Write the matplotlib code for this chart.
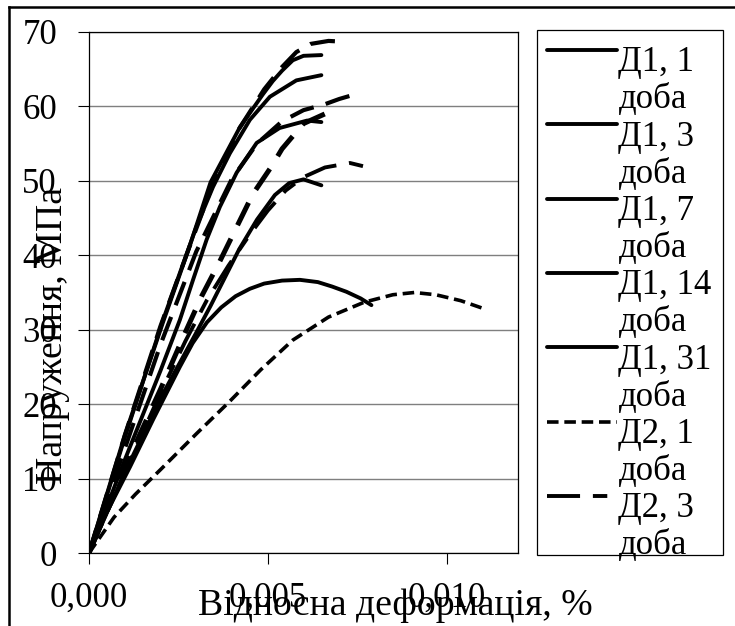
"""
Напруження - відносна деформація для складів Д1 та Д2 (різний вік)
"""

import matplotlib
matplotlib.use('Agg')
import matplotlib.pyplot as plt
from matplotlib.legend_handler import HandlerLine2D
from matplotlib.patches import Rectangle

# ---- Дані ----
# Д1, 1 доба
d1_1_x = [0, 0.0005, 0.00115, 0.0018, 0.00254, 0.0029, 0.0033, 0.0037, 0.0041, 0.0045,
          0.0049, 0.0054, 0.0059, 0.0064, 0.0068, 0.0072, 0.0076, 0.0079]
d1_1_y = [0, 5.5, 11.6, 18, 25, 28.2, 31.0, 33.0, 34.5, 35.5,
          36.2, 36.6, 36.7, 36.4, 35.8, 35.1, 34.2, 33.3]
# Д1, 3 доби
d1_3_x = [0, 0.001, 0.002, 0.003, 0.0034, 0.0038, 0.0042, 0.0047, 0.0052, 0.0056, 0.006, 0.0065]
d1_3_y = [0, 10.8, 20.8, 29.6, 33.2, 37, 40.8, 44.8, 48.1, 49.7, 50.2, 49.4]
# Д1, 7 діб
d1_7_x = [0, 0.001, 0.002, 0.00254, 0.00291, 0.00329, 0.00366, 0.00413, 0.00469, 0.00533, 0.0061, 0.0065]
d1_7_y = [0, 12.5, 24.5, 31.3, 36.7, 42.1, 46.5, 51.1, 55.1, 57.1, 58.1, 57.9]
# Д1, 14 діб
d1_14_x = [0, 0.001, 0.00207, 0.00254, 0.003, 0.00347, 0.00394, 0.0045, 0.00506, 0.0058, 0.0065]
d1_14_y = [0, 15.5, 31.3, 37.6, 43.8, 49.2, 53.7, 58.2, 61.3, 63.5, 64.2]
# Д1, 31 доба
d1_31_x = [0, 0.001, 0.00207, 0.0028, 0.0034, 0.00422, 0.00486, 0.00514, 0.0054, 0.0057, 0.006, 0.0065]
d1_31_y = [0, 15.8, 31.0, 41.0, 49.8, 57.2, 61.6, 63.4, 64.8, 66.2, 66.8, 66.9]
# Д2, 1 доба
d2_1_x = [0, 0.0007, 0.0013, 0.002, 0.003, 0.0039, 0.0048, 0.0057, 0.0067, 0.0077,
          0.0085, 0.0091, 0.0097, 0.0104, 0.011]
d2_1_y = [0, 4.8, 7.9, 11.2, 16, 20.2, 24.6, 28.6, 31.7, 33.7,
          34.7, 35, 34.7, 33.9, 32.9]
# Д2, 3 доби
d2_3_x = [0, 0.001, 0.002, 0.0027, 0.0033, 0.0039, 0.0045, 0.005, 0.0055, 0.006, 0.0066, 0.0073, 0.0079]
d2_3_y = [0, 10.8, 21.5, 28.5, 34, 38.6, 42.8, 46, 48.7, 50.5, 51.8, 52.4, 51.7]
# Д2, 7 діб
d2_7_x = [0, 0.001, 0.002, 0.00268, 0.00315, 0.00366, 0.0041, 0.00458, 0.0051, 0.0054, 0.006, 0.0066, 0.007]
d2_7_y = [0, 11.5, 22, 29.5, 34.5, 39.2, 43.5, 48.2, 51.9, 54.3, 57.7, 59, 59.3]
# Д2, 14 діб
d2_14_x = [0, 0.001, 0.002, 0.003, 0.004, 0.0047, 0.0054, 0.006, 0.0066, 0.007, 0.0075]
d2_14_y = [0, 14, 28, 40.5, 50.3, 55, 58, 59.5, 60.3, 61, 61.7]
# Д2, 31 доба
d2_31_x = [0, 0.001, 0.002, 0.0028, 0.0035, 0.0042, 0.0049, 0.0054, 0.0058, 0.0062, 0.0067, 0.0071]
d2_31_y = [0, 15.8, 30.5, 41, 50, 57, 62.3, 65.3, 67.3, 68.4, 68.8, 68.7]

names = ['Д1, 1', 'Д1, 3', 'Д1, 7', 'Д1, 14', 'Д1, 31',
         'Д2, 1', 'Д2, 3', 'Д2, 7', 'Д2, 14', 'Д2, 31']
name_suffix = 'доба'

x_ticks = [0, 0.005, 0.010]
x_tick_labels = ['0,000', '0,005', '0,010']
y_ticks = [0, 10, 20, 30, 40, 50, 60, 70]

# ---- Стиль ----
plt.rcParams['font.family'] = ['Liberation Serif', 'DejaVu Serif']

W, H = 735, 626
fig = plt.figure(figsize=(W / 100, H / 100), dpi=100)
ax = fig.add_axes([89 / W, 1 - 553 / H, (518 - 89) / W, (553 - 32) / H])

series = [
    (d1_1_x, d1_1_y, dict(ls='-', lw=2.8)),
    (d1_3_x, d1_3_y, dict(ls='-', lw=2.8)),
    (d1_7_x, d1_7_y, dict(ls='-', lw=2.8)),
    (d1_14_x, d1_14_y, dict(ls='-', lw=2.8)),
    (d1_31_x, d1_31_y, dict(ls='-', lw=2.8)),
    (d2_1_x, d2_1_y, dict(ls=(0, (3.2, 1.6)), lw=2.6)),
    (d2_3_x, d2_3_y, dict(ls=(0, (8.5, 3.3, 3.7, 3.3)), lw=2.8)),
    (d2_7_x, d2_7_y, dict(ls=(0, (5, 3)), lw=3.6)),
    (d2_14_x, d2_14_y, dict(ls=(0, (6, 3)), lw=3.0)),
    (d2_31_x, d2_31_y, dict(ls=(0, (6, 3)), lw=3.0)),
]

handles = []
for (xs, ys, st), nm in zip(series, names):
    ln, = ax.plot(xs, ys, color='black', label=nm + ' ' + name_suffix,
                  solid_capstyle='round', **st)
    handles.append(ln)

ax.set_xlim(0, 0.012)
ax.set_ylim(0, 70)
ax.set_xticks(x_ticks)
ax.set_xticklabels(x_tick_labels)
ax.set_yticks(y_ticks)
ax.grid(axis='y', color='#7f7f7f', lw=1.0)
ax.set_axisbelow(True)
ax.tick_params(axis='both', direction='out', length=8, width=0.8, labelsize=25, color='black')
ax.tick_params(axis='x', pad=13)
ax.tick_params(axis='y', pad=15)
for sp in ax.spines.values():
    sp.set_linewidth(0.9)
    sp.set_color('black')

ax.set_xlabel('Відносна деформація, %', fontsize=27.2, va='baseline')
ax.xaxis.set_label_coords((395 - 89) / 429, (553 - 615) / 521)
ax.set_ylabel('Напруження, МПа', fontsize=27.2, va='center')
ax.yaxis.set_label_coords((53 - 89) / 429, (553 - 335) / 521)


class RaisedLine(HandlerLine2D):
    # у легенді Excel лінія стоїть трохи вище середини рядка
    def create_artists(self, legend, orig_handle, xdescent, ydescent,
                       width, height, fontsize, trans):
        arts = super().create_artists(legend, orig_handle, xdescent, ydescent,
                                      width, height, fontsize, trans)
        for a in arts:
            a.set_ydata([y + 0.26 * fontsize for y in a.get_ydata()])
        return arts


# легенда: підпис переноситься на другий рядок ("доба"),
# видно лише перші 7 рядів
leg_handles, leg_labels = [], []
for h, nm in zip(handles[:7], names[:7]):
    leg_handles += [h, plt.Line2D([], [], linestyle='none')]
    leg_labels += [nm, name_suffix]

leg = ax.legend(leg_handles, leg_labels, loc='upper left',
                bbox_to_anchor=(542 / W, 1 - 41 / H), bbox_transform=fig.transFigure,
                fontsize=25, frameon=False, borderaxespad=0, borderpad=0.15,
                handlelength=2.0, handletextpad=0.05, labelspacing=0.12,
                handler_map={plt.Line2D: RaisedLine()})

# рамка легенди (текст у Excel трохи виходить за нижній край)
fig.add_artist(Rectangle((537 / W, 1 - 555 / H), (723 - 537) / W, (555 - 30) / H,
                         transform=fig.transFigure, fill=False,
                         edgecolor='black', lw=0.9))

# рамка навколо всього рисунка (видно лише верх і лівий бік)
fig.add_artist(plt.Line2D([9 / W, 1.0], [1 - 7 / H, 1 - 7 / H], color='black', lw=1.8))
fig.add_artist(plt.Line2D([9 / W, 9 / W], [0.0, 1 - 7 / H], color='black', lw=1.8))

fig.savefig('out.png', dpi=100)
print('ok')
